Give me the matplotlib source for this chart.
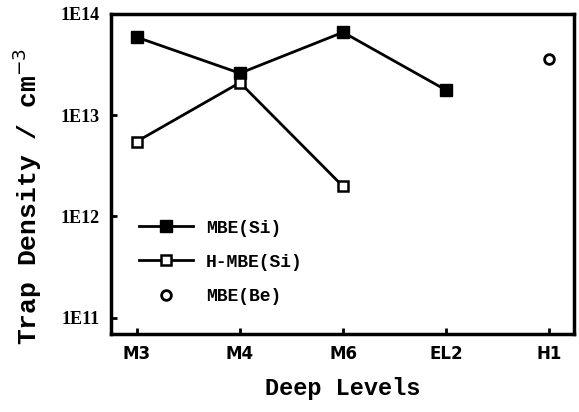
import matplotlib
matplotlib.use('Agg')
import matplotlib.pyplot as plt

levels = ['M3', 'M4', 'M6', 'EL2', 'H1']
mbe_si = [5.9e13, 2.6e13, 6.6e13, 1.77e13]
hmbe_si = [5.5e12, 2.1e13, 1.98e12]
mbe_be = [3.6e13]

fig = plt.figure(figsize=(5.79, 4.12), dpi=100)
ax = fig.add_axes([111/579, 1-334/412, (574-111)/579, (334-14)/412])

x = list(range(len(levels)))
ax.plot(x[:4], mbe_si, '-s', color='black', lw=2, ms=8, mfc='black', label='MBE(Si)')
ax.plot(x[:3], hmbe_si, '-s', color='black', lw=2, ms=7, mfc='white', mew=1.8, label='H-MBE(Si)')
ax.plot(x[4:], mbe_be, 'o', color='black', ms=7, mfc='white', mew=2, label='MBE(Be)')

ax.set_yscale('log')
ax.set_ylim(6.9e10, 1e14)
ax.set_xlim(-0.25, 4.24)
ax.set_yticks([1e11, 1e12, 1e13, 1e14])
ax.set_yticklabels(['1E11', '1E12', '1E13', '1E14'], fontfamily='Liberation Serif',
                   fontweight='bold', fontsize=13)
ax.minorticks_off()
ax.set_xticks(x)
ax.set_xticklabels(levels, fontfamily='Liberation Sans Narrow', fontweight='bold', fontsize=12)
ax.tick_params(direction='in', length=4, width=2, pad=8)
for s in ax.spines.values():
    s.set_linewidth(2.5)

ax.set_xlabel('Deep Levels', fontfamily='Liberation Mono', fontweight='bold', fontsize=17, labelpad=10)
ax.set_ylabel('Trap Density / cm$^{-3}$', fontfamily='Liberation Mono', fontweight='bold', fontsize=19)
ax.yaxis.set_label_coords(-0.145, 0.43)

ax.legend(loc='lower left', bbox_to_anchor=(0.025, 0.04), frameon=False, handlelength=3.0,
          labelspacing=0.95, handletextpad=0.7,
          prop={'family': 'Liberation Mono', 'weight': 'bold', 'size': 13})

plt.savefig('out.png', dpi=100)
